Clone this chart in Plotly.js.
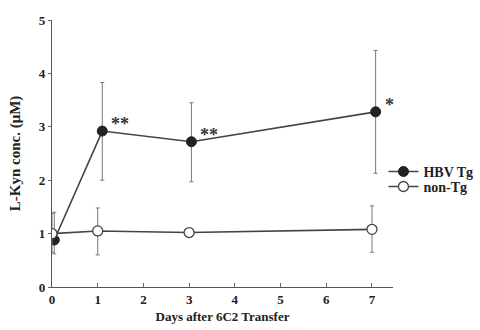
<!DOCTYPE html>
<html><head><meta charset="utf-8">
<script src="https://cdn.plot.ly/plotly-3.0.1.min.js"></script>
<style>html,body{margin:0;padding:0;background:#fff}#chart{width:480px;height:330px}</style>
</head><body><div id="chart"></div>
<script>
const hbvDays = [0.05, 1.1, 3.05, 7.08];
const hbvMean = [0.88, 2.92, 2.72, 3.28];
const hbvUpper = [1.40, 3.83, 3.45, 4.43];
const hbvLower = [0.62, 2.00, 1.97, 2.13];
const nonDays = [0, 1, 3, 7];
const nonMean = [1.00, 1.05, 1.02, 1.08];
const nonUpper = [1.38, 1.48, 1.05, 1.52];
const nonLower = [0.65, 0.60, 0.99, 0.65];
const sigLabels = ['', '**', '**', '*'];
const xTicks = [0,1,2,3,4,5,6,7];
const yTicks = [0,1,2,3,4,5];

const fam = 'Liberation Serif, Times New Roman, serif';
const errStyle = (up, lo, mean) => ({type:'data', symmetric:false,
  array: up.map((u,i)=>u-mean[i]), arrayminus: lo.map((l,i)=>mean[i]-l),
  color:'#777', thickness:1, width:2});

const traces = [
  {x: hbvDays, y: hbvMean, name: '<b>HBV Tg</b>', mode: 'lines+markers', legend:'legend',
   line:{color:'#444', width:1.6}, marker:{symbol:'circle', size:10, color:'#222', line:{color:'#222', width:1}},
   error_y: errStyle(hbvUpper, hbvLower, hbvMean)},
  {x: nonDays, y: nonMean, name: '<b>non-Tg</b>', mode: 'lines+markers', legend:'legend2',
   line:{color:'#444', width:1.6}, marker:{symbol:'circle', size:10, color:'#fff', line:{color:'#444', width:1.3}},
   error_y: errStyle(nonUpper, nonLower, nonMean)}
];

const annotations = [];
sigLabels.forEach((s,i)=>{ if(s) annotations.push({x: hbvDays[i], y: hbvMean[i], text: '<b>'+s+'</b>',
  showarrow:false, xanchor:'left', yanchor:'bottom', xshift:7, yshift: -5,
  font:{family: fam, size:18, color:'#333'}}); });

const legFont = {family:fam, size:14, color:'#222'};
const layout = {
  width:480, height:330, margin:{l:52, r:87, t:20, b:43, autoexpand:false},
  paper_bgcolor:'#fff', plot_bgcolor:'#fff', showlegend:true,
  font: {family: fam, size:13, color:'#222'},
  xaxis:{range:[0,7.46], tickvals:xTicks, ticktext:xTicks.map(v=>'<b>'+v+'</b>'),
    ticks:'inside', ticklen:4, tickcolor:'#666', showline:true, linecolor:'#555', linewidth:1.2,
    showgrid:false, zeroline:false, tickfont:{family:fam, size:13, color:'#222'},
    title:{text:'<b>Days after 6C2 Transfer</b>', font:{family:fam, size:13, color:'#222'}, standoff:6}},
  yaxis:{range:[0,5], tickvals:yTicks, ticktext:yTicks.map(v=>'<b>'+v+'</b>'),
    ticks:'outside', ticklen:3, tickcolor:'#666', showline:true, linecolor:'#555', linewidth:1.2,
    showgrid:false, zeroline:false, tickfont:{family:fam, size:13, color:'#222'},
    title:{text:'<b>L-Kyn conc. (μM)</b>', font:{family:fam, size:15, color:'#222'}, standoff:14}},
  legend:{x:0.972, y:0.431, xanchor:'left', yanchor:'middle', bgcolor:'rgba(0,0,0,0)',
    font:legFont, itemwidth:30},
  legend2:{x:0.972, y:0.375, xanchor:'left', yanchor:'middle', bgcolor:'rgba(0,0,0,0)',
    font:legFont, itemwidth:30},
  annotations: annotations
};
Plotly.newPlot('chart', traces, layout, {staticPlot:true});
</script></body></html>
